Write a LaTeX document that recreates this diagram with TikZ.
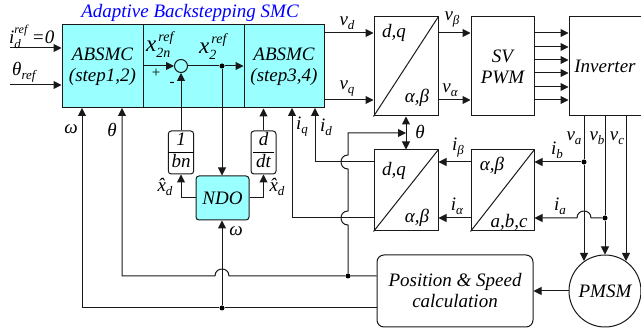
\documentclass[tikz,border=0pt]{standalone}
\usepackage{fontspec}
\setmainfont{Liberation Serif}
\usetikzlibrary{arrows.meta}
\newcommand\lsub[1]{\raisebox{-4pt}{\fontsize{13}{13}\selectfont #1}}
\newcommand\ssb[2]{\rlap{\hspace{2pt}\raisebox{10pt}{\fontsize{14}{14}\selectfont #1}}\raisebox{-6pt}{\fontsize{14}{14}\selectfont #2}}
\newcommand\ssc[2]{\rlap{\raisebox{10pt}{\fontsize{12}{12}\selectfont #1}}\raisebox{-5pt}{\fontsize{13}{13}\selectfont #2}}
\newcommand\frc[2]{\begin{tabular}{@{\,}c@{\,}}\rule[-3pt]{0pt}{16pt}#1\\\hline\rule{0pt}{15pt}#2\end{tabular}}
\definecolor{cy}{HTML}{99FFFF}
\tikzset{
  base/.style={font=\fontsize{19}{21}\selectfont\itshape,inner sep=0pt,align=center},
  blk/.style={base,draw=black!90,line width=1pt,minimum width=#1},
  blk/.default=64pt,
  cyb/.style={blk=#1,fill=cy},
  lbl/.style={base},
  wire/.style={line width=1pt,draw=black!90},
  arr/.style={wire,-{Triangle[length=8pt,width=8pt]}},
  arrb/.style={wire,{Triangle[length=8pt,width=8pt]}-{Triangle[length=8pt,width=8pt]}},
  jd/.style={circle,fill=black,inner sep=0pt,minimum size=5pt}
}
\begin{document}
\begin{tikzpicture}[x=1pt,y=-1pt]
\useasboundingbox (0,0) rectangle (641,331);
% main blocks
\node[cyb=81pt,minimum height=83pt] (abs1) at (102.5,66.5) {ABSMC\\(step1,2)};
\node[cyb=101pt,minimum height=83pt] (abs2) at (193.5,66.5) {};
\node[cyb=80pt,minimum height=83pt] (abs3) at (284,66.5) {ABSMC\\(step3,4)};
\node[blk=64pt,minimum height=99pt] (t1) at (406,66.5) {};
\node[blk=63pt,minimum height=99pt] (pwm) at (502.5,66.5) {SV\\PWM};
\node[blk=72pt,minimum height=99pt] (inv) at (605,66.5) {Inverter};
\node[blk=64pt,minimum height=81pt] (t2) at (406,190.5) {};
\node[blk=63pt,minimum height=81pt] (t3) at (502.5,190.5) {};
\node[blk=156pt,minimum height=72pt,rounded corners=7pt] (pos) at (455,291) {Position \& Speed\\calculation};
\node[base,draw=black!90,line width=1pt,circle,minimum size=72pt] (pmsm) at (605,291) {PMSM};
\node[cyb=53pt,minimum height=44pt,rounded corners=3pt] (ndo) at (222.5,198) {NDO};
\node[blk=24pt,minimum height=43pt,rounded corners=3pt] (bn) at (181,152.5) {\frc{1}{bn}};
\node[blk=25pt,minimum height=43pt,rounded corners=3pt] (ddt) at (263.5,152.5) {\frc{d}{dt}};
\node[draw=black!90,fill=cy,line width=1pt,circle,minimum size=13pt,inner sep=0pt] (sum) at (181,66) {};
% diagonals
\draw[wire] (t1.south west) -- (t1.north east);
\draw[wire] (t2.south west) -- (t2.north east);
\draw[wire] (t3.south west) -- (t3.north east);
% coordinates
\coordinate (in1) at (10,48); \coordinate (in2) at (10,85);
\coordinate (omg) at (82,308); \coordinate (tht) at (122,276);
\coordinate (o1) at (82,108); \coordinate (o2) at (122,108);
\node[jd] (d1) at (222,66) {};
\node[jd] (d2) at (222,308) {};
\node[jd] (d3) at (348,276) {};
\node[jd] (d4) at (584,162) {};
\node[jd] (d5) at (605,218) {};
% top inputs
\draw[arr] (in1) -- (in1 -| abs1.west);
\draw[arr] (in2) -- (in2 -| abs1.west);
% summing
\draw[arr] (abs2.west |- sum) -- (sum.west);
\draw[wire] (sum.east) -- (d1);
\draw[arr] (d1) -- (abs3.west |- d1);
\draw[arr] (d1) -- (ndo.north -| d1);
\draw[arr] (bn.north) -- (sum.south);
\draw[arr] (ddt.north) -- (abs3.south -| ddt.north);
\draw[arr] (ndo.west) -| (bn.south);
\draw[arr] (ndo.east) -| (ddt.south);
\draw[arr] (d2) -- (ndo.south -| d2);
% feedback
\draw[arr] (pos.west |- d2) -- (d2) -- (omg) -- (o1);
\draw[arr] (pos.west |- d3) -- (d3) -- (229,276) .. controls (229,266.7) and (215,266.7) .. (215,276) -- (tht) -- (o2);
% id, iq
\draw[arr] (t2.west |- 0,162) -- (315,162) -- (315,108);
\draw[arr] (t2.west |- 0,218) -- (292,218) -- (292,108);
\draw[arr] (d3) -- (348,225) .. controls (338.7,225) and (338.7,211) .. (348,211) -- (348,169) .. controls (338.7,169) and (338.7,155) .. (348,155) -- (348,133) -- (406,133);
% v
\draw[arr] (abs3.east |- 0,33) -- (t1.west |- 0,33);
\draw[arr] (abs3.east |- 0,100) -- (t1.west |- 0,100);
\draw[arr] (t1.east |- 0,33) -- (pwm.west |- 0,33);
\draw[arr] (t1.east |- 0,100) -- (pwm.west |- 0,100);
\foreach \yy in {33,47,60,73,87,100}
  \draw[arr] (pwm.east |- 0,\yy) -- (inv.west |- 0,\yy);
\draw[arrb] (t1.south) -- (t2.north);
% currents
\draw[arr] (t3.west |- 0,162) -- (t2.east |- 0,162);
\draw[arr] (t3.west |- 0,218) -- (t2.east |- 0,218);
\draw[arr] (d4) -- (t3.east |- d4);
\draw[arr] (d5) -- (591,218) .. controls (591,208.7) and (577,208.7) .. (577,218) -- (t3.east |- d5);
% motor
\draw[arr] (584,116) -- (d4) -- (584,261);
\draw[arr] (605,116) -- (d5) -- (pmsm.north);
\draw[arr] (626,116) -- (626,261);
\draw[arr] (pmsm.west) -- (pos.east |- pmsm.west);
% labels
\node[lbl,text=blue] (title) at (190,13) {Adaptive Backstepping SMC};
\node[lbl,anchor=west] (l1) at (9,37) {i\ssc{ref}{d}\hspace{11pt}=0};
\node[lbl,anchor=west] (l2) at (12,72) {θ\lsub{ref}};
\node[lbl] (l3) at (71,129) {ω};
\node[lbl] (l4) at (112,130) {θ};
\node[lbl,anchor=west] (l5) at (146,45) {\fontsize{23}{23}\selectfont x\ssb{ref}{2n}};
\node[lbl,anchor=west] (l6) at (199,47) {\fontsize{23}{23}\selectfont x\ssb{ref}{2}};
\node[lbl,font=\fontsize{15}{15}\selectfont] (l7) at (156,73) {+};
\node[lbl,font=\fontsize{15}{15}\selectfont] (l8) at (172,84) {-};
\node[lbl] (l9) at (165,187) {\^x\lsub{d}};
\node[lbl] (l10) at (277,187) {\^x\lsub{d}};
\node[lbl] (l11) at (236,231) {ω};
\node[lbl] (l12) at (302,127) {i\lsub{q}};
\node[lbl] (l13) at (326,127) {i\lsub{d}};
\node[lbl] (l14) at (347,23) {v\lsub{d}};
\node[lbl] (l15) at (347,89) {v\lsub{q}};
\node[lbl] (l16) at (394,33) {d,q};
\node[lbl] (l17) at (417,98) {α,β};
\node[lbl] (l18) at (452,20) {v\lsub{β}};
\node[lbl] (l19) at (450,90) {v\lsub{α}};
\node[lbl] (l20) at (420,132) {θ};
\node[lbl] (l21) at (458,148) {i\lsub{β}};
\node[lbl] (l22) at (557,150) {i\lsub{b}};
\node[lbl] (l23) at (574,138) {v\lsub{a}};
\node[lbl] (l24) at (597,138) {v\lsub{b}};
\node[lbl] (l25) at (617,138) {v\lsub{c}};
\node[lbl] (l26) at (394,171) {d,q};
\node[lbl] (l27) at (417,218) {α,β};
\node[lbl] (l28) at (492,166) {α,β};
\node[lbl] (l29) at (509,222) {a,b,c};
\node[lbl] (l30) at (457,206) {i\lsub{α}};
\node[lbl] (l31) at (560,206) {i\lsub{a}};
\end{tikzpicture}
\end{document}
